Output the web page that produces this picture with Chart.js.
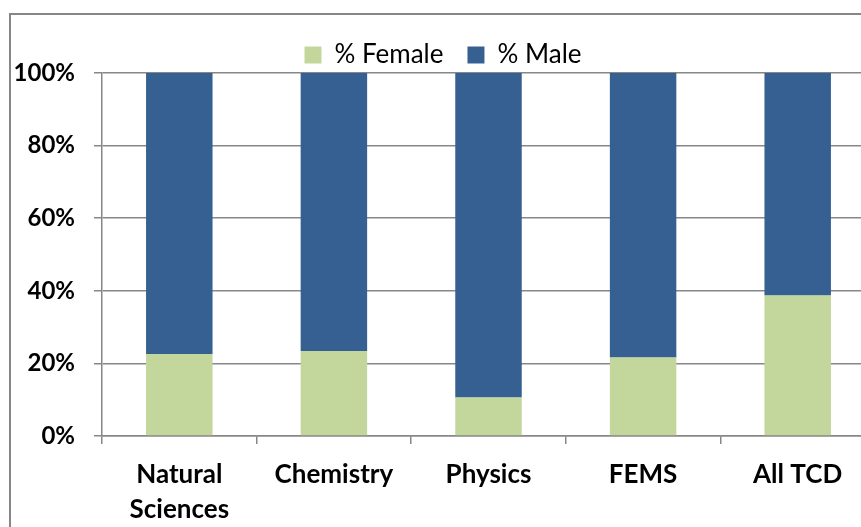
<!DOCTYPE html>
<html>
<head>
<meta charset="utf-8">
<script src="https://cdn.jsdelivr.net/npm/chart.js@4/dist/chart.umd.min.js"></script>
<style>
  html, body { margin: 0; padding: 0; background: #fff; overflow: hidden; }
  #frame {
    position: absolute; left: 9px; top: 13px;
    width: 864px; height: 540px;
    border: 2px solid #878787;
  }
  canvas { display: block; }
</style>
</head>
<body>
<div id="frame"><canvas id="chart" width="864" height="540"></canvas></div>
<script>
const categories = [['Natural', 'Sciences'], 'Chemistry', 'Physics', 'FEMS', 'All TCD'];
const femalePct = [22.6, 23.4, 10.6, 21.6, 38.7];
const malePct = [77.4, 76.6, 89.4, 78.4, 61.3];
const yTicks = [0, 20, 40, 60, 80, 100];

const green = '#C3D69B';
const blue = '#366092';
const lineGrey = '#878787';

// legend box is given a fixed height so the plot starts where it should
const legendHeight = {
  id: 'legendHeight',
  beforeInit(chart) {
    const fit = chart.legend.fit;
    chart.legend.fit = function () {
      fit.bind(chart.legend)();
      this.height = 55;
    };
  }
};

new Chart(document.getElementById('chart'), {
  type: 'bar',
  data: {
    labels: categories,
    datasets: [
      { label: '% Female', data: femalePct, backgroundColor: green },
      { label: '% Male', data: malePct, backgroundColor: blue }
    ]
  },
  options: {
    responsive: false,
    animation: false,
    devicePixelRatio: 1,
    categoryPercentage: 1,
    barPercentage: 0.43,
    layout: { padding: { top: 3, left: 0, right: 0, bottom: 0 } },
    plugins: {
      legend: {
        position: 'top',
        labels: {
          boxWidth: 17,
          boxHeight: 17,
          padding: 24,
          color: '#000',
          font: { family: 'Lato', size: 26 }
        }
      },
      tooltip: { enabled: false }
    },
    scales: {
      x: {
        stacked: true,
        afterFit(scale) { scale.height = 119; },
        grid: { display: true, drawOnChartArea: false, tickLength: 8, color: lineGrey, lineWidth: 1.5 },
        border: { display: true, color: lineGrey, width: 1.5 },
        ticks: {
          color: '#000',
          padding: 13,
          maxRotation: 0,
          font: { family: 'Lato', size: 26, weight: 'bold', lineHeight: 1.34 }
        }
      },
      y: {
        stacked: true,
        min: 0,
        max: 100,
        afterFit(scale) { scale.width = 91; },
        afterBuildTicks(scale) { scale.ticks = yTicks.map(v => ({ value: v })); },
        grid: { color: lineGrey, lineWidth: 1.5, tickLength: 8 },
        border: { display: true, color: lineGrey, width: 1.5 },
        ticks: {
          color: '#000',
          padding: 19,
          font: { family: 'Lato', size: 24, weight: 'bold' },
          callback: v => v + '%'
        }
      }
    }
  },
  plugins: [legendHeight]
});
</script>
</body>
</html>
